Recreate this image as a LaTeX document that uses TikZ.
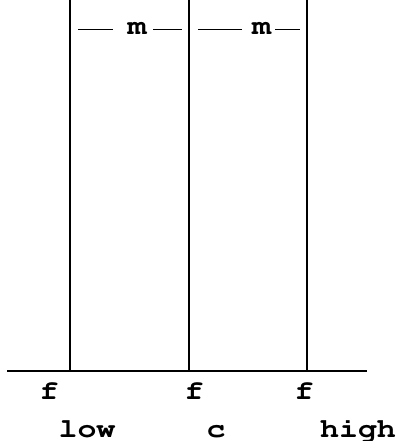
\documentclass[tikz,border=0pt]{standalone}
\usepackage[T1]{fontenc}
\usepackage{courier}
\newcommand\widetxt[1]{\scalebox{1.17}[1]{#1}}
\begin{document}
\begin{tikzpicture}[x=1pt,y=1pt,
  lbl/.style={font=\ttfamily\bfseries\fontsize{27}{27}\selectfont, inner sep=0pt, anchor=base},
  mlbl/.style={font=\ttfamily\bfseries\fontsize{27}{27}\selectfont, inner sep=0pt, anchor=base},
  axisline/.style={line width=2pt},
  vline/.style={line width=1.2pt},
  dimline/.style={line width=0.8pt}]
\useasboundingbox (0,0) rectangle (397,441);
% vertical lines
\coordinate (t1) at (70,441); \coordinate (b1) at (70,70);
\coordinate (t2) at (189,441); \coordinate (b2) at (189,70);
\coordinate (t3) at (307,441); \coordinate (b3) at (307,70);
\coordinate (al) at (7,70); \coordinate (ar) at (367,70);
\draw[vline] (t1) -- (b1);
\draw[vline] (t2) -- (b2);
\draw[vline] (t3) -- (b3);
\draw[axisline] (al) -- (ar);
% top labels
\node[mlbl] (m1) at (137,406) {\widetxt{m}};
\node[mlbl] (m2) at (261.5,406) {\widetxt{m}};
\coordinate (d1a) at (78,412); \coordinate (d1b) at (113,412);
\coordinate (d2a) at (153,412); \coordinate (d2b) at (182,412);
\coordinate (d3a) at (198,412); \coordinate (d3b) at (242,412);
\coordinate (d4a) at (275,412); \coordinate (d4b) at (300,412);
\draw[dimline] (d1a) -- (d1b);
\draw[dimline] (d2a) -- (d2b);
\draw[dimline] (d3a) -- (d3b);
\draw[dimline] (d4a) -- (d4b);
% bottom labels
\node[lbl] (f1) at (49,41) {\widetxt{f}};
\node[lbl] (f2) at (194,41) {\widetxt{f}};
\node[lbl] (f3) at (304,41) {\widetxt{f}};
\node[lbl] (low) at (87,3) {\widetxt{low}};
\node[lbl] (c) at (216,3) {\widetxt{c}};
\node[lbl] (high) at (358,3) {\widetxt{high}};
\end{tikzpicture}
\end{document}
